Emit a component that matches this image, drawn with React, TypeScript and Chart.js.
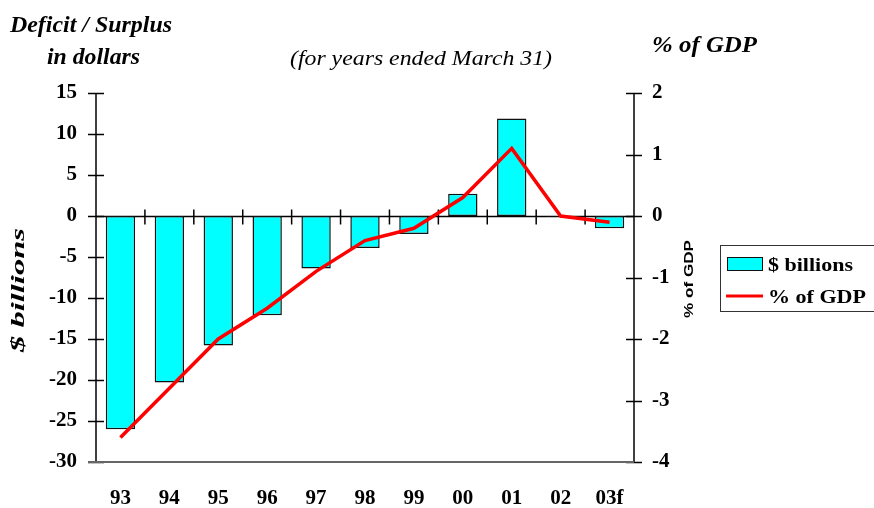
import React, { useEffect, useRef } from "react";
import { Chart, registerables } from "chart.js";

Chart.register(...registerables);

const categories = ["93", "94", "95", "96", "97", "98", "99", "00", "01", "02", "03f"];
const billions = [-26.0, -20.3, -15.8, -12.1, -6.4, -3.9, -2.2, 2.7, 11.9, -0.1, -1.5];
const pctGdp = [-3.6, -2.8, -2.0, -1.5, -0.9, -0.4, -0.2, 0.3, 1.1, 0.0, -0.1];
const leftTicks = [15, 10, 5, 0, -5, -10, -15, -20, -25, -30];
const rightTicks = [2, 1, 0, -1, -2, -3, -4];

const SERIF = '"Liberation Serif", "Times New Roman", serif';
const SANS = '"Liberation Sans", Arial, sans-serif';

function fitText(
  ctx: CanvasRenderingContext2D,
  text: string,
  x: number,
  y: number,
  font: string,
  width: number,
  align: CanvasTextAlign = "left",
  rotate = 0,
  baseline: CanvasTextBaseline = "alphabetic"
) {
  ctx.save();
  ctx.font = font;
  const w = ctx.measureText(text).width;
  const sx = width / w;
  ctx.translate(x, y);
  if (rotate) ctx.rotate(rotate);
  ctx.scale(sx, 1);
  ctx.textAlign = align;
  ctx.textBaseline = baseline;
  ctx.fillStyle = "#000";
  ctx.fillText(text, 0, 0);
  ctx.restore();
}

function seg(ctx: CanvasRenderingContext2D, x1: number, y1: number, x2: number, y2: number) {
  ctx.beginPath();
  ctx.moveTo(x1, y1);
  ctx.lineTo(x2, y2);
  ctx.stroke();
}

const axesPlugin = {
  id: "customAxes",
  beforeDatasetsDraw(chart: any) {
    const { ctx, chartArea, scales } = chart;
    const { left, right, top, bottom } = chartArea;
    const y = scales.y;
    const y1 = scales.y1;
    const x = scales.x;
    ctx.save();
    ctx.strokeStyle = "#000";
    ctx.lineWidth = 1.5;
    seg(ctx, left, top, left, bottom);
    leftTicks.forEach((v) => {
      const py = Math.round(y.getPixelForValue(v)) + 0.5;
      seg(ctx, left - 8, py, left + 8, py);
    });
    seg(ctx, right, top, right, bottom);
    rightTicks.forEach((v) => {
      const py = Math.round(y1.getPixelForValue(v)) + 0.5;
      seg(ctx, right - 8, py, right + 8, py);
    });
    const zero = Math.round(y.getPixelForValue(0)) + 0.5;
    seg(ctx, left, zero, right, zero);
    for (let i = 1; i < categories.length; i++) {
      const px = (x.getPixelForValue(i - 1) + x.getPixelForValue(i)) / 2;
      seg(ctx, px, zero - 7, px, zero + 8);
    }
    ctx.strokeStyle = "#666";
    ctx.lineWidth = 2;
    seg(ctx, left - 8, bottom, right, bottom);
    ctx.restore();
  },
  afterDraw(chart: any) {
    const { ctx } = chart;
    fitText(ctx, "Deficit / Surplus", 10, 32, `italic bold 24px ${SERIF}`, 162);
    fitText(ctx, "in dollars", 47, 64, `italic bold 24px ${SERIF}`, 93);
    fitText(ctx, "(for years ended March 31)", 290, 65, `italic 22px ${SERIF}`, 262);
    fitText(ctx, "% of GDP", 652, 52, `italic bold 24px ${SERIF}`, 105);
    fitText(ctx, "$ billions", 19, 290, `italic bold 18px ${SERIF}`, 124, "center", -Math.PI / 2, "middle");
    fitText(ctx, "% of GDP", 689, 279, `bold 13px ${SANS}`, 78, "center", -Math.PI / 2, "middle");

    // legend
    ctx.save();
    ctx.strokeStyle = "#333";
    ctx.lineWidth = 1;
    ctx.strokeRect(720.5, 245.5, 160, 66);
    ctx.fillStyle = "#00FFFF";
    ctx.fillRect(727, 257, 35, 13);
    ctx.strokeStyle = "#111";
    ctx.strokeRect(727.5, 257.5, 35, 13);
    ctx.strokeStyle = "#FF0000";
    ctx.lineWidth = 3;
    seg(ctx, 726, 296, 763, 296);
    ctx.restore();
    fitText(ctx, "$ billions", 768, 271, `bold 19px ${SERIF}`, 85);
    fitText(ctx, "% of GDP", 768, 303, `bold 19px ${SERIF}`, 98);
  },
};

export default function App() {
  const ref = useRef<HTMLCanvasElement | null>(null);
  useEffect(() => {
    if (!ref.current) return;
    const tickFont = { family: SERIF, size: 21, weight: "bold" as const };
    const chart = new Chart(ref.current, {
      type: "bar",
      data: {
        labels: categories,
        datasets: [
          {
            type: "line" as const,
            label: "% of GDP",
            data: pctGdp,
            yAxisID: "y1",
            borderColor: "#FF0000",
            backgroundColor: "#FF0000",
            borderWidth: 3.5,
            pointRadius: 0,
            tension: 0,
            order: 0,
          },
          {
            type: "bar" as const,
            label: "$ billions",
            data: billions,
            yAxisID: "y",
            backgroundColor: "#00FFFF",
            borderColor: "#111111",
            borderWidth: 1.5,
            borderSkipped: false,
            barPercentage: 0.6,
            categoryPercentage: 1,
            order: 1,
          },
        ],
      },
      options: {
        animation: false,
        responsive: false,
        layout: { padding: { top: 93, left: 0, right: 0, bottom: 0 } },
        plugins: { legend: { display: false }, tooltip: { enabled: false } },
        scales: {
          x: {
            grid: { display: false, drawTicks: false },
            border: { display: false },
            ticks: { font: tickFont, color: "#000", padding: 24, maxRotation: 0 },
            afterFit(s: any) {
              s.height = 46;
            },
          },
          y: {
            position: "left",
            min: -30,
            max: 15,
            grid: { display: false, drawTicks: false },
            border: { display: false },
            ticks: { stepSize: 5, font: tickFont, color: "#000", padding: 19 },
            afterFit(s: any) {
              s.width = 96;
            },
          },
          y1: {
            position: "right",
            min: -4,
            max: 2,
            grid: { display: false, drawTicks: false },
            border: { display: false },
            ticks: { stepSize: 1, font: tickFont, color: "#000", padding: 18 },
            afterFit(s: any) {
              s.width = 240;
            },
          },
        },
      },
      plugins: [axesPlugin],
    });
    return () => chart.destroy();
  }, []);
  return (
    <div style={{ position: "absolute", left: 0, top: 0, width: 874, height: 508, background: "#fff" }}>
      <canvas ref={ref} width={874} height={508} style={{ display: "block" }} />
    </div>
  );
}
